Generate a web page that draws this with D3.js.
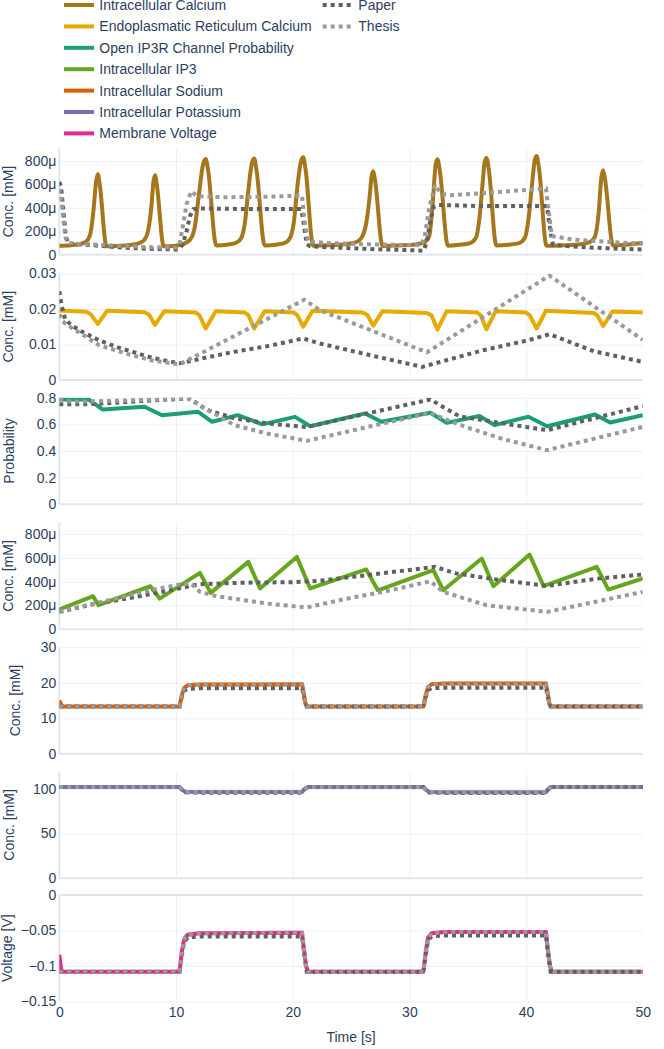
<!DOCTYPE html>
<html><head><meta charset="utf-8">
<script src="https://cdn.jsdelivr.net/npm/d3@7"></script>
<style>
body{margin:0;background:#fff}
svg{display:block;font-family:"Liberation Sans",Arial,sans-serif}
</style>
</head><body><svg id="c" width="664" height="1049"></svg>
<script>
// ---------------- DATA ----------------
const timeTicks = [0, 10, 20, 30, 40, 50];
const seriesNames = ["Intracellular Calcium","Endoplasmatic Reticulum Calcium","Open IP3R Channel Probability","Intracellular IP3","Intracellular Sodium","Intracellular Potassium","Membrane Voltage"];
const sourceNames = ["Paper","Thesis"];

// Intracellular calcium, values in µ(mM)
const caTicks = [0, 200, 400, 600, 800];
const caTickLabels = ["0","200μ","400μ","600μ","800μ"];
const caSolid = [[0,78],[1,82],[1.8,92],[2.3,112],[2.65,175],[2.95,400],[3.15,620],[3.3,685],[3.45,610],[4.05,72],
 [5,76],[6,84],[6.8,98],[7.3,128],[7.6,200],[7.9,420],[8.05,610],[8.2,678],[8.35,600],[8.95,72],
 [10,78],[10.7,95],[11.2,128],[11.6,230],[11.95,500],[12.3,760],[12.55,815],[12.75,720],[13.45,80],
 [14.5,88],[15.2,105],[15.6,145],[15.9,270],[16.2,550],[16.5,780],[16.7,820],[16.9,720],[17.6,80],
 [18.7,88],[19.4,105],[19.8,150],[20.1,280],[20.4,580],[20.7,790],[20.9,830],[21.1,730],[21.75,78],
 [23,82],[24.5,90],[25.4,105],[25.9,145],[26.3,270],[26.6,500],[26.75,660],[26.9,712],[27.05,640],[27.7,75],
 [29,80],[30.5,88],[31.3,108],[31.7,160],[32.0,440],[32.25,770],[32.4,813],[32.6,720],[33.3,78],
 [34.3,85],[35.2,100],[35.7,145],[36.0,310],[36.25,580],[36.45,790],[36.6,825],[36.8,730],[37.45,80],
 [38.5,86],[39.4,100],[39.9,145],[40.2,300],[40.5,590],[40.75,810],[40.9,841],[41.1,740],[41.75,78],
 [43,80],[44.5,88],[45.4,105],[45.9,155],[46.2,340],[46.45,660],[46.6,720],[46.75,650],[47.45,80],[48.5,85],[50,100]];
const caPaper = [[0,620],[0.15,580],[0.35,380],[0.55,160],[0.8,95],[2,88],[4,72],[6,58],[8,50],[10.2,45],
 [10.6,90],[10.9,200],[11.2,330],[11.5,390],[12,395],[16,390],[20.7,390],[20.9,300],[21.2,90],[21.5,72],
 [24,60],[27,48],[30,40],[31.2,35],[31.5,110],[31.8,300],[32.1,410],[32.5,425],[36,415],[41.8,415],
 [42.0,250],[42.3,85],[44,70],[47,55],[50,45]];
const caThesis = [[0,560],[0.15,500],[0.35,300],[0.55,140],[0.8,100],[2,92],[4,82],[6,72],[8,65],[10.0,60],
 [10.3,90],[10.6,250],[10.9,430],[11.3,540],[11.8,500],[14,490],[18,495],[20.8,505],[21.0,300],[21.3,115],
 [23,100],[26,90],[29,85],[31.0,82],[31.3,150],[31.7,400],[32.2,595],[32.7,520],[33.5,508],[37,530],
 [41.7,565],[41.9,400],[42.2,160],[44,130],[47,110],[50,95]];

// ER calcium [mM]
const erTicks = [0, 0.01, 0.02, 0.03];
const erTickLabels = ["0","0.01","0.02","0.03"];
const erSolid = [[0,0.0196],[2.3,0.0192],[2.7,0.0185],[3.3,0.0158],[4.1,0.0195],[7.3,0.0191],[7.7,0.0184],[8.2,0.0155],
 [9.0,0.0194],[11.7,0.019],[12.0,0.0183],[12.55,0.0145],[13.4,0.0194],[15.9,0.019],[16.2,0.0183],[16.7,0.0145],
 [17.6,0.0194],[20.1,0.019],[20.4,0.0183],[20.9,0.015],[21.7,0.0195],[26.0,0.019],[26.4,0.0183],[26.9,0.0153],
 [27.7,0.0194],[31.5,0.0189],[31.9,0.0182],[32.4,0.0142],[33.2,0.0194],[35.8,0.019],[36.1,0.0183],[36.6,0.0143],
 [37.4,0.0194],[40.0,0.019],[40.3,0.0183],[40.9,0.0145],[41.7,0.0195],[45.8,0.0189],[46.1,0.0182],[46.6,0.0152],
 [47.4,0.0193],[50,0.019]];
const erPaper = [[0,0.025],[0.2,0.021],[0.5,0.0172],[1,0.0155],[2,0.0135],[3.4,0.0112],[5,0.0092],[6.3,0.0079],
 [8,0.0062],[10.3,0.0047],[13,0.0066],[14.9,0.0079],[17.8,0.0095],[20.9,0.0117],[22.3,0.0103],[26.9,0.0068],
 [31.1,0.0037],[36.2,0.0083],[40.2,0.0112],[42,0.0129],[45.8,0.0081],[50,0.0051]];
const erThesis = [[0,0.0185],[0.3,0.0165],[1,0.0148],[2,0.0128],[3.4,0.0098],[5,0.0082],[6.3,0.0069],[8,0.0055],
 [10.3,0.0044],[21,0.0226],[22.3,0.0197],[31.5,0.0078],[42,0.0294],[50,0.0113]];

// Open IP3R channel probability
const prTicks = [0, 0.2, 0.4, 0.6, 0.8];
const prTickLabels = ["0","0.2","0.4","0.6","0.8"];
const prSolid = [[0,0.787],[2.5,0.787],[3.7,0.712],[7.3,0.732],[8.8,0.668],[11.9,0.694],[13.1,0.619],[15.3,0.669],
 [17.4,0.600],[20.2,0.656],[21.5,0.586],[26.2,0.682],[27.6,0.619],[31.8,0.687],[33.2,0.611],[36.0,0.662],
 [37.3,0.594],[40.2,0.657],[41.8,0.586],[45.9,0.674],[47.2,0.614],[50,0.669]];
const prPaper = [[0,0.75],[3,0.752],[7,0.775],[11.2,0.795],[12.6,0.71],[15,0.645],[18,0.605],[21.2,0.58],
 [31.8,0.787],[33,0.725],[34.3,0.66],[38,0.607],[41.8,0.556],[50,0.737]];
const prThesis = [[0,0.79],[1,0.77],[4,0.775],[8,0.785],[11,0.795],[12.5,0.72],[15,0.594],[17.8,0.531],[21.2,0.476],
 [31.8,0.687],[33,0.64],[35,0.575],[38,0.49],[41.8,0.406],[50,0.581]];

// Intracellular IP3, values in µ(mM)
const ip3Ticks = [0, 200, 400, 600, 800];
const ip3TickLabels = ["0","200μ","400μ","600μ","800μ"];
const ip3Solid = [[0,166],[2.9,278],[3.35,202],[7.8,362],[8.6,258],[12.05,474],[12.97,306],[16.2,567],[17.2,343],
 [20.35,609],[21.5,343],[26.3,503],[27.3,328],[32.05,497],[32.9,328],[36.2,595],[37.2,362],[40.3,629],[41.5,362],
 [46.05,525],[47.05,334],[50,427]];
const ip3Paper = [[0,146],[3,212],[6,262],[9,318],[12,379],[16,392],[20,396],[22.3,407],[26.3,455],[32.2,525],
 [34,470],[37,425],[41.8,365],[46,425],[50,461]];
const ip3Thesis = [[0,150],[3,215],[7.8,328],[10.5,380],[11.3,385],[12.05,314],[13.5,278],[17.8,216],[21.2,183],
 [24,244],[28,320],[31.8,404],[32.9,314],[36.6,202],[41.8,146],[50,314]];

// Intracellular sodium [mM]
const naTicks = [0, 10, 20, 30];
const naTickLabels = ["0","10","20","30"];
const naSolid = [[0,15.0],[0.25,13.3],[10.3,13.3],[10.5,16.5],[10.7,18.6],[11.0,19.3],[12,19.5],[20.8,19.6],
 [20.95,17],[21.1,14],[21.3,13.3],[31.2,13.3],[31.4,16.5],[31.6,18.8],[31.9,19.6],[33,19.8],[41.7,19.8],
 [41.85,17],[42.0,14],[42.2,13.3],[50,13.3]];
const naPaper = [[0,13.3],[10.3,13.3],[10.5,16.0],[10.7,17.8],[11.0,18.3],[12,18.5],[20.8,18.5],[21.0,15.5],
 [21.2,13.3],[31.2,13.3],[31.4,16],[31.6,18],[31.9,18.5],[33,18.6],[41.7,18.6],[41.9,15.5],[42.1,13.3],[50,13.3]];
const naThesis = [[0,13.3],[10.3,13.3],[10.5,16.5],[10.7,18.6],[11.0,19.3],[12,19.5],[20.8,19.6],
 [20.95,17],[21.1,14],[21.3,13.3],[31.2,13.3],[31.4,16.5],[31.6,18.8],[31.9,19.6],[33,19.8],[41.7,19.8],
 [41.85,17],[42.0,14],[42.2,13.3],[50,13.3]];

// Intracellular potassium [mM]
const kTicks = [0, 50, 100];
const kTickLabels = ["0","50","100"];
const kSolid = [[0,101.8],[10.3,101.8],[10.5,99],[10.8,96.5],[12,96.2],[20.8,96.2],[21.0,99.5],[21.3,101.8],
 [31.2,101.8],[31.4,99],[31.7,96.3],[33,96],[41.7,96],[41.9,99.5],[42.1,101.8],[50,101.8]];
const kPaper = [[0,101.8],[10.3,101.8],[10.5,99],[10.8,96],[12,95.5],[20.8,95.5],[21.0,99.5],[21.3,101.8],
 [31.2,101.8],[31.4,99],[31.7,95.8],[33,95.3],[41.7,95.3],[41.9,99.5],[42.1,101.8],[50,101.8]];
const kThesis = [[0,101.8],[10.3,101.8],[10.5,99],[10.8,96.5],[12,96.2],[20.8,96.2],[21.0,99.5],[21.3,101.8],
 [31.2,101.8],[31.4,99],[31.7,96.3],[33,96],[41.7,96],[41.9,99.5],[42.1,101.8],[50,101.8]];

// Membrane voltage [V]
const vTicks = [-0.15, -0.1, -0.05, 0];
const vTickLabels = ["\u22120.15","\u22120.1","\u22120.05","0"];
const vSolid = [[0,-0.084],[0.15,-0.104],[0.3,-0.108],[10.3,-0.108],[10.5,-0.08],[10.7,-0.062],[11.0,-0.056],
 [12,-0.054],[20.8,-0.053],[20.95,-0.075],[21.15,-0.1],[21.3,-0.108],[31.2,-0.108],[31.4,-0.08],[31.6,-0.06],
 [31.9,-0.054],[33,-0.052],[41.7,-0.052],[41.85,-0.075],[42.05,-0.1],[42.2,-0.108],[50,-0.108]];
const vPaper = [[0,-0.108],[10.3,-0.108],[10.5,-0.085],[10.7,-0.066],[11.0,-0.06],[12,-0.0585],[20.8,-0.0585],
 [21.0,-0.085],[21.2,-0.108],[31.2,-0.108],[31.4,-0.085],[31.6,-0.064],[31.9,-0.058],[33,-0.057],[41.7,-0.057],
 [41.9,-0.085],[42.1,-0.108],[50,-0.108]];
const vThesis = [[0,-0.108],[10.3,-0.108],[10.5,-0.08],[10.7,-0.062],[11.0,-0.056],[12,-0.054],[20.8,-0.053],
 [20.95,-0.075],[21.15,-0.1],[21.3,-0.108],[31.2,-0.108],[31.4,-0.08],[31.6,-0.06],[31.9,-0.054],[33,-0.052],
 [41.7,-0.052],[41.85,-0.075],[42.05,-0.1],[42.2,-0.108],[50,-0.108]];

// ---------------- STYLE / LAYOUT ----------------
const colors = ["#a6761d","#e6ab02","#1b9e77","#66a61e","#d95f02","#7570b3","#e7298a"];
const paperColor = "#606060", thesisColor = "#9a9a9a";
const TEXT = "#2a3f5f", GRID = "#EBF0F8", ZERO = "#E2E6EC";
const FONT = 14;
const LW = 4;

const svg = d3.select("#c");
const x = d3.scaleLinear().domain([0, 50]).range([59.3, 642.8]);
const H = 106.5;

const panels = [
  {top:148.3, domain:[0,907], ticks:caTicks, labels:caTickLabels, title:"Conc. [mM]", tx:8.3, smooth:true, data:[caSolid,caPaper,caThesis]},
  {top:273.5, domain:[0,0.03], ticks:erTicks, labels:erTickLabels, title:"Conc. [mM]", tx:7.5, data:[erSolid,erPaper,erThesis]},
  {top:397.7, domain:[0,0.8], ticks:prTicks, labels:prTickLabels, title:"Probability", tx:9.2, data:[prSolid,prPaper,prThesis]},
  {top:522.7, domain:[0,897], ticks:ip3Ticks, labels:ip3TickLabels, title:"Conc. [mM]", tx:7.5, data:[ip3Solid,ip3Paper,ip3Thesis]},
  {top:647.3, domain:[0,30], ticks:naTicks, labels:naTickLabels, title:"Conc. [mM]", tx:14.5, data:[naSolid,naPaper,naThesis]},
  {top:771.7, domain:[0,119], ticks:kTicks, labels:kTickLabels, title:"Conc. [mM]", tx:8.5, data:[kSolid,kPaper,kThesis]},
  {top:895, domain:[-0.15,0], ticks:vTicks, labels:vTickLabels, title:"Voltage [V]", tx:7, data:[vSolid,vPaper,vThesis]}
];

const defs = svg.append("defs");

panels.forEach((p, i) => {
  const y = d3.scaleLinear().domain(p.domain).range([p.top + H, p.top]);
  const g = svg.append("g");
  const x0 = x.range()[0], x1 = x.range()[1];

  const vg = g.append("g").attr("transform", `translate(0,${p.top + H})`)
    .call(d3.axisBottom(x).tickValues(timeTicks.filter(t => t !== 0 && t !== 50)).tickSize(-H).tickFormat(""));
  vg.select(".domain").remove();
  vg.selectAll("line").attr("stroke", GRID).attr("stroke-width", 1);

  const hg = g.append("g").attr("transform", `translate(${x0},0)`)
    .call(d3.axisLeft(y).tickValues(p.ticks.filter(v => v !== 0)).tickSize(-(x1 - x0)).tickFormat(""));
  hg.select(".domain").remove();
  hg.selectAll("line").attr("stroke", GRID).attr("stroke-width", 1);

  g.append("line").attr("x1", x(0)).attr("x2", x(0)).attr("y1", p.top).attr("y2", p.top + H)
    .attr("stroke", ZERO).attr("stroke-width", 2);
  g.append("line").attr("x1", x0).attr("x2", x1).attr("y1", y(0)).attr("y2", y(0))
    .attr("stroke", ZERO).attr("stroke-width", 2);

  const ax = g.append("g").attr("transform", `translate(${x0},0)`)
    .call(d3.axisLeft(y).tickValues(p.ticks).tickFormat((d, k) => p.labels[k]).tickSize(0).tickPadding(3));
  ax.select(".domain").remove();
  ax.selectAll("text").attr("fill", TEXT).attr("font-size", FONT);
  ax.attr("font-family", null);

  g.append("text").attr("transform", `translate(${p.tx},${p.top + H / 2}) rotate(-90)`)
    .attr("text-anchor", "middle").attr("dominant-baseline", "central")
    .attr("fill", TEXT).attr("font-size", FONT).text(p.title);

  const cid = "clip" + i;
  defs.append("clipPath").attr("id", cid).append("rect")
    .attr("x", x0).attr("y", p.top).attr("width", x1 - x0).attr("height", H);

  const line = d3.line().x(d => x(d[0])).y(d => y(d[1]));
  const solidLine = d3.line().x(d => x(d[0])).y(d => y(d[1])).curve(p.smooth ? d3.curveMonotoneX : d3.curveLinear);
  const lg = g.append("g").attr("clip-path", `url(#${cid})`);
  lg.append("path").attr("d", solidLine(p.data[0])).attr("fill", "none").attr("stroke", colors[i])
    .attr("stroke-width", LW).attr("stroke-linejoin", "round");
  lg.append("path").attr("d", line(p.data[1])).attr("fill", "none").attr("stroke", paperColor)
    .attr("stroke-width", LW).attr("stroke-dasharray", "4,4");
  lg.append("path").attr("d", line(p.data[2])).attr("fill", "none").attr("stroke", thesisColor)
    .attr("stroke-width", LW).attr("stroke-dasharray", "4,4");

  if (i === panels.length - 1) {
    const bx = svg.append("g").attr("transform", `translate(0,${p.top + H})`)
      .call(d3.axisBottom(x).tickValues(timeTicks).tickSize(0).tickPadding(6));
    bx.select(".domain").remove();
    bx.selectAll("text").attr("fill", TEXT).attr("font-size", FONT);
    bx.attr("font-family", null);
    svg.append("text").attr("x", (x0 + x1) / 2).attr("y", 1041.5).attr("text-anchor", "middle")
      .attr("fill", TEXT).attr("font-size", FONT).text("Time [s]");
  }
});

// ---------------- LEGEND ----------------
const leg = svg.append("g");
seriesNames.forEach((name, i) => {
  const cy = 5 + i * 21.4;
  leg.append("line").attr("x1", 64).attr("x2", 94).attr("y1", cy).attr("y2", cy)
    .attr("stroke", colors[i]).attr("stroke-width", 4);
  leg.append("text").attr("x", 99.3).attr("y", cy).attr("dy", "0.35em")
    .attr("fill", TEXT).attr("font-size", FONT).text(name);
});
sourceNames.forEach((name, i) => {
  const cy = 5 + i * 21.4;
  leg.append("line").attr("x1", 322.7).attr("x2", 352.7).attr("y1", cy).attr("y2", cy)
    .attr("stroke", i === 0 ? paperColor : thesisColor).attr("stroke-width", 4).attr("stroke-dasharray", "4,4");
  leg.append("text").attr("x", 358.3).attr("y", cy).attr("dy", "0.35em")
    .attr("fill", TEXT).attr("font-size", FONT).text(name);
});
</script></body></html>
